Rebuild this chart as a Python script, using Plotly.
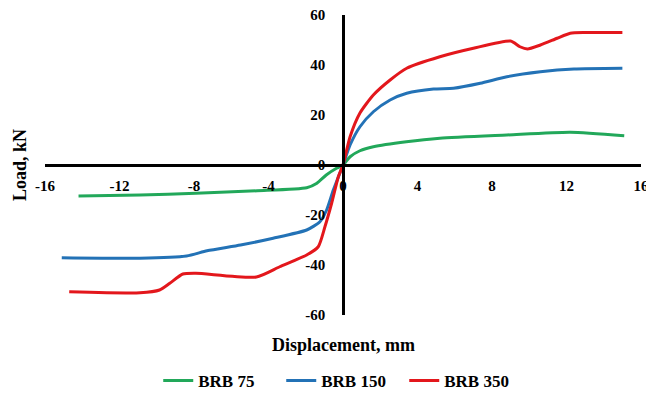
import plotly.graph_objects as go

# Data (Displacement mm, Load kN)
brb75_x = [-14.2, -10.9, -7.9, -4.6, -1.95, -1.4, -0.9, -0.35, 0, 0.38, 0.91, 1.63, 3.4, 5.2, 8.8, 12.2, 15.1]
brb75_y = [-12.4, -12.0, -11.3, -10.3, -9.1, -7.3, -4.0, -1.3, 0, 3.3, 5.7, 7.3, 9.3, 10.7, 12.0, 13.1, 11.7]

brb150_x = [-15.1, -10.9, -8.4, -7.3, -5.5, -3.75, -1.95, -1.24, -0.88, -0.52, 0, 0.38, 0.91, 1.63,
            2.53, 3.42, 4.86, 5.93, 7.37, 8.8, 10.6, 12.4, 15.0]
brb150_y = [-37.1, -37.3, -36.4, -34.3, -32.0, -29.3, -26.0, -22.7, -18.0, -10.0, 0, 8.0, 15.3, 21.3,
            26.0, 28.7, 30.4, 30.7, 32.7, 35.3, 37.3, 38.4, 38.7]

brb350_x = [-14.7, -10.9, -9.85, -9.3, -8.6, -7.9, -4.65, -3.4, -1.95, -1.33, -0.97, -0.61, -0.25, 0,
            0.38, 0.91, 1.63, 2.53, 3.42, 5.2, 7.0, 9.0, 9.5, 9.9, 10.6, 11.5, 12.2, 13.0, 15.0]
brb350_y = [-50.7, -51.1, -50.0, -47.3, -43.6, -43.3, -44.8, -40.7, -36.0, -32.7, -24.7, -15.3, -4.7, 0,
            11.3, 20.8, 28.0, 34.0, 38.7, 43.3, 46.7, 49.6, 47.3, 46.4, 48.0, 50.7, 52.7, 53.0, 53.0]

series_names = ["BRB 75", "BRB 150", "BRB 350"]
series_colors = ["#22a85a", "#2372b6", "#e3171c"]

x_ticks = [-16, -12, -8, -4, 0, 4, 8, 12, 16]
y_ticks = [-60, -40, -20, 0, 20, 40, 60]

FONT = "Liberation Serif"

fig = go.Figure()
for xs, ys, name, col in zip([brb75_x, brb150_x, brb350_x], [brb75_y, brb150_y, brb350_y],
                             series_names, series_colors):
    fig.add_trace(go.Scatter(x=xs, y=ys, mode="lines", name=name,
                             line=dict(color=col, width=3, shape="spline", smoothing=0.6)))

fig.update_layout(
    width=646, height=394,
    margin=dict(l=45, r=5, t=15, b=79, autoexpand=False),
    paper_bgcolor="white", plot_bgcolor="white",
    font=dict(family=FONT, color="black", size=15, weight="bold"),
    xaxis=dict(range=[-16, 16], tickvals=x_ticks, ticktext=[str(v) for v in x_ticks],
               showgrid=False, zeroline=False, automargin=False,
               showline=True, linecolor="black", linewidth=2.5,
               anchor="free", position=0.5, ticks="",
               ticklabelstandoff=6, ticklabeloverflow="allow",
               tickfont=dict(family=FONT, size=15, color="black", weight="bold")),
    yaxis=dict(range=[-60, 60], tickvals=y_ticks, ticktext=[str(v) for v in y_ticks],
               showgrid=False, zeroline=False, automargin=False,
               showline=True, linecolor="black", linewidth=2.5,
               anchor="free", position=0.5, ticks="",
               ticklabelstandoff=14, ticklabeloverflow="allow",
               tickfont=dict(family=FONT, size=15, color="black", weight="bold")),
    legend=dict(orientation="h", x=0.19, xanchor="left", y=-0.22, yanchor="middle",
                font=dict(family=FONT, size=17, color="black", weight="bold"),
                entrywidth=78, entrywidthmode="pixels",
                bgcolor="rgba(0,0,0,0)"),
    annotations=[
        dict(text="Displacement, mm", xref="paper", yref="paper", x=0.5, y=-0.1, xanchor="center",
             yanchor="middle", showarrow=False,
             font=dict(family=FONT, size=18, color="black", weight="bold")),
        dict(text="Load, kN", xref="paper", yref="paper", x=-0.042, y=0.5, xanchor="center",
             yanchor="middle", textangle=-90, showarrow=False,
             font=dict(family=FONT, size=18, color="black", weight="bold")),
    ],
)

fig.write_html("out.html")
